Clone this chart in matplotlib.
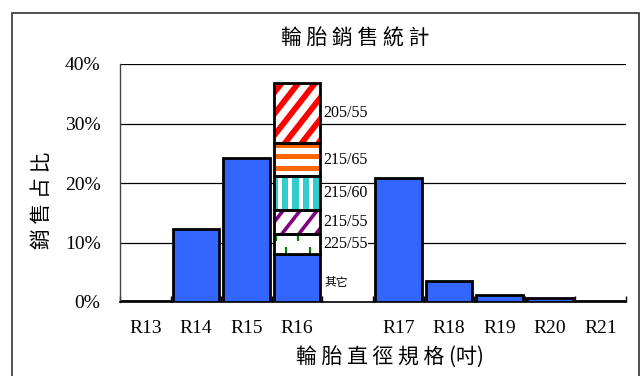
import matplotlib
matplotlib.use("Agg")
import matplotlib.pyplot as plt
from matplotlib.patches import Rectangle
from matplotlib.transforms import IdentityTransform
import numpy as np

# ---- data -------------------------------------------------------------
categories = ["R13", "R14", "R15", "R16", "", "R17", "R18", "R19", "R20", "R21"]
share = [0.1, 12.3, 24.2, 8.1, np.nan, 20.8, 3.6, 1.2, 0.6, 0.1]   # % of sales

r16_sizes = ["225/55", "215/55", "215/60", "215/65", "205/55"]
r16_share = [3.3, 4.1, 5.6, 5.6, 10.1]                          # % stacked on R16
r16_other_label = "其它"

y_ticks = [0, 10, 20, 30, 40]

# ---- styling ----------------------------------------------------------
W, H = 642, 376
BLUE = "#3366FF"
PX = 72 / 100          # points per pixel at 100 dpi
# texture: kind, face colour, stripe colour, period px, stripe width px, phase px
seg_style = {
    "225/55": ("dash", "white", "#008000", 22, 2.2, 0),
    "215/55": ("diag", "white", "#800080", 17, 3.6, 6),
    "215/60": ("vert", "#33CCCC", "white", 10.5, 4.0, 6),
    "215/65": ("horz", "white", "#FF6600", 11.3, 5.0, 2),
    "205/55": ("diag", "white", "#FF0000", 16.7, 5.8, 4),
}
SERIF = ["Liberation Serif", "DejaVu Serif"]
CJK = ["Noto Sans CJK TC", "DejaVu Sans"]

fig = plt.figure(figsize=(W / 100, H / 100), dpi=100)
fig.patch.set_facecolor("white")

# outer chart frame
fig.patches.append(Rectangle((12 / W, -0.05), (639 - 12) / W, 1.05 - 13.5 / H,
                             transform=fig.transFigure, fill=False,
                             edgecolor="#333333", linewidth=1.2))

ax = fig.add_axes([120 / W, 1 - 302 / H, (626 - 120) / W, (302 - 64) / H])
x = np.arange(len(categories))
bw = 0.92
ax.set_xlim(-0.5, len(categories) - 0.5)
ax.set_ylim(0, 40)


def texture(patch, kind, color, period, width, phase):
    """Fill a bar patch with a stripe texture, clipped to the patch."""
    (x0, y0), (x1, y1) = ax.transData.transform(
        [(patch.get_x(), patch.get_y()),
         (patch.get_x() + patch.get_width(), patch.get_y() + patch.get_height())])
    segs = []
    if kind == "vert":
        for c in np.arange(x0 + phase, x1 + period, period):
            segs.append([(c, y0), (c, y1)])
    elif kind == "horz":
        for c in np.arange(y1 - phase, y0 - period, -period):
            segs.append([(x0, c), (x1, c)])
    elif kind == "diag":
        k = np.tan(np.radians(52))
        h = y1 - y0
        for c in np.arange(x0 - h / k - period + phase, x1 + period, period):
            segs.append([(c, y0 - 5), (c + (h + 10) / k, y1 + 5)])
    elif kind == "dash":
        w = x1 - x0
        h = y1 - y0
        dl = 0.35 * h
        for f in (0.05, 0.52):
            cx = x0 + f * w
            segs.append([(cx, y1), (cx, y1 - dl)])
        for f in (0.27, 0.78):
            cx = x0 + f * w
            segs.append([(cx, y0), (cx, y0 + dl)])
    for s in segs:
        (a, b), (c, d) = s
        ln = plt.Line2D([a, c], [b, d], transform=IdentityTransform(), color=color,
                        linewidth=width * PX, solid_capstyle="butt", zorder=3.5)
        ax.add_line(ln)
        ln.set_clip_path(patch)


# gridlines
for t in y_ticks[1:]:
    ax.axhline(t, color="black", linewidth=0.9, zorder=1)

ax.bar(x, share, width=bw, color=BLUE, edgecolor="black", linewidth=2.0, zorder=3)

# stacked R16 segments
i16 = categories.index("R16")
bottom = share[i16]
for name, v in zip(r16_sizes, r16_share):
    kind, face, scol, per, wid, ph = seg_style[name]
    bars = ax.bar(i16, v, bottom=bottom, width=bw, color=face, linewidth=0, zorder=3)
    texture(bars[0], kind, scol, per, wid, ph)
    ax.bar(i16, v, bottom=bottom, width=bw, fill=False, edgecolor="black",
           linewidth=2.0, zorder=4)
    ax.annotate(name, xy=(i16 + bw / 2, bottom + v / 2), xytext=(2, 0),
                textcoords="offset points", ha="left", va="center",
                fontsize=11.5, family=SERIF, zorder=5,
                bbox=dict(facecolor="white", edgecolor="none", pad=0.6))
    bottom += v

ax.annotate(r16_other_label, xy=(i16 + bw / 2, share[i16] / 2), xytext=(3, -3),
            textcoords="offset points", ha="left", va="center",
            fontsize=8.5, family=CJK, zorder=5)

ax.set_yticks(y_ticks)
ax.set_yticklabels([f"{t}%" for t in y_ticks], family=SERIF, fontsize=14)
ax.tick_params(axis="y", length=0, pad=14)

ax.set_xticks(x)
ax.set_xticklabels(categories, family=SERIF, fontsize=14)
ax.set_xticks(np.arange(len(categories) + 1) - 0.5, minor=True)
ax.tick_params(axis="x", which="major", length=0, pad=13)
ax.tick_params(axis="x", which="minor", direction="in", length=4, width=1)

for s in ("top", "right"):
    ax.spines[s].set_visible(False)
ax.spines["left"].set_color("#444444")
ax.spines["left"].set_linewidth(1.0)
ax.spines["bottom"].set_linewidth(1.2)
ax.set_facecolor("none")

fig.text(355.5 / W, 1 - 39 / H, " ".join("輪胎銷售統計"), ha="center", va="center",
         fontsize=15, family=CJK)
fig.text(390 / W, 1 - 358 / H, " ".join("輪胎直徑規格") + " (吋)", ha="center",
         va="center", fontsize=15, family=CJK)
fig.text(42 / W, 1 - 200 / H, " ".join("銷售占比"), ha="center", va="center",
         rotation=90, fontsize=15, family=CJK)

fig.savefig("out.png", dpi=100, facecolor="white")
